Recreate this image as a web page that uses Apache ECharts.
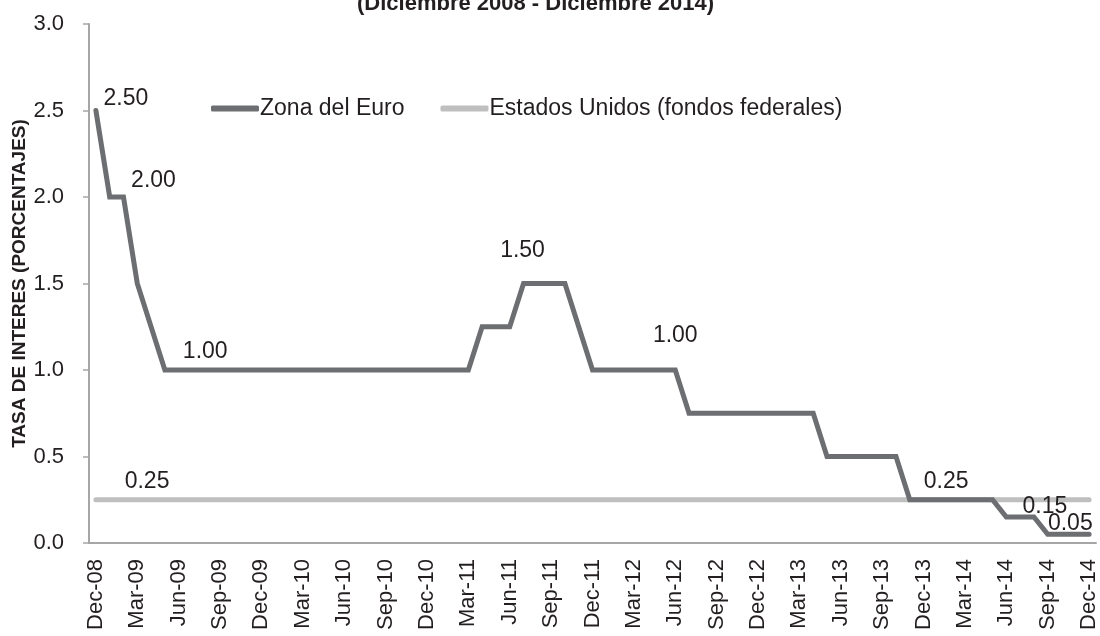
<!DOCTYPE html>
<html>
<head>
<meta charset="utf-8">
<script src="https://cdn.jsdelivr.net/npm/echarts@6/dist/echarts.min.js"></script>
<style>
  html, body { margin: 0; padding: 0; background: #fff; }
  #chart { width: 1100px; height: 636px; }
</style>
</head>
<body>
<div id="chart"></div>
<script>
// meses, dic-2008 a dic-2014
const months = [
  'Dec-08',
  'Jan-09', 'Feb-09', 'Mar-09', 'Apr-09', 'May-09', 'Jun-09', 'Jul-09', 'Aug-09', 'Sep-09', 'Oct-09', 'Nov-09', 'Dec-09',
  'Jan-10', 'Feb-10', 'Mar-10', 'Apr-10', 'May-10', 'Jun-10', 'Jul-10', 'Aug-10', 'Sep-10', 'Oct-10', 'Nov-10', 'Dec-10',
  'Jan-11', 'Feb-11', 'Mar-11', 'Apr-11', 'May-11', 'Jun-11', 'Jul-11', 'Aug-11', 'Sep-11', 'Oct-11', 'Nov-11', 'Dec-11',
  'Jan-12', 'Feb-12', 'Mar-12', 'Apr-12', 'May-12', 'Jun-12', 'Jul-12', 'Aug-12', 'Sep-12', 'Oct-12', 'Nov-12', 'Dec-12',
  'Jan-13', 'Feb-13', 'Mar-13', 'Apr-13', 'May-13', 'Jun-13', 'Jul-13', 'Aug-13', 'Sep-13', 'Oct-13', 'Nov-13', 'Dec-13',
  'Jan-14', 'Feb-14', 'Mar-14', 'Apr-14', 'May-14', 'Jun-14', 'Jul-14', 'Aug-14', 'Sep-14', 'Oct-14', 'Nov-14', 'Dec-14'
]

// Zona del Euro (tasa de refinanciamiento)
const euroRate = [
  2.50,
  2.00, 2.00, 1.50, 1.25, 1.00, 1.00, 1.00, 1.00, 1.00, 1.00, 1.00, 1.00,
  1.00, 1.00, 1.00, 1.00, 1.00, 1.00, 1.00, 1.00, 1.00, 1.00, 1.00, 1.00,
  1.00, 1.00, 1.00, 1.25, 1.25, 1.25, 1.50, 1.50, 1.50, 1.50, 1.25, 1.00,
  1.00, 1.00, 1.00, 1.00, 1.00, 1.00, 0.75, 0.75, 0.75, 0.75, 0.75, 0.75,
  0.75, 0.75, 0.75, 0.75, 0.50, 0.50, 0.50, 0.50, 0.50, 0.50, 0.25, 0.25,
  0.25, 0.25, 0.25, 0.25, 0.25, 0.15, 0.15, 0.15, 0.05, 0.05, 0.05, 0.05
]

// Estados Unidos (fondos federales)
const usRate = new Array(months.length).fill(0.25)

const yTicks = [0, 0.5, 1.0, 1.5, 2.0, 2.5, 3.0]

// etiquetas de datos: indice -> desplazamiento del texto
const euroLabels = { 0: [30, -12], 2: [30, -16], 8: [-1, -18], 31: [-1, -33], 42: [0, -34], 62: [-5, -18], 68: [11, -10], 71: [-5, -11] }
const usLabels = { 4: [-4, -18] }

const FONT = '"Liberation Sans", Arial, sans-serif'
const TEXT = '#231f20'

const buildData = (values, labels) =>
  values.map((v, i) => {
    if (!labels[i]) return v
    return {
      value: v,
      label: {
        show: true,
        position: 'inside',
        offset: labels[i],
        formatter: p => p.value.toFixed(2),
        fontFamily: FONT,
        fontSize: 23,
        color: TEXT
      }
    }
  })

const mChart = echarts.init(document.getElementById('chart'))

const options = {
  animation: false,
  title: {
    text: '(Diciembre 2008 - Diciembre 2014)',
    left: 352,
    top: -12,
    textStyle: { fontFamily: FONT, fontSize: 22, fontWeight: 'bold', color: TEXT }
  },
  legend: {
    left: 206,
    top: 92,
    itemWidth: 48,
    itemHeight: 6,
    itemGap: 36,
    icon: 'roundRect',
    textStyle: { fontFamily: FONT, fontSize: 23, color: TEXT, padding: [0, 0, 0, -4] },
    data: ['Zona del Euro', 'Estados Unidos (fondos federales)']
  },
  grid: { left: 89, right: 4, top: 24, bottom: 93, outerBoundsMode: 'none' },
  xAxis: {
    type: 'category',
    data: months,
    boundaryGap: true,
    axisLine: { lineStyle: { color: '#a6a6a6', width: 2 } },
    axisTick: { interval: 0, length: 5, lineStyle: { color: '#a6a6a6', width: 1.5 } },
    axisLabel: {
      interval: 2,
      rotate: 90,
      margin: 16,
      fontFamily: FONT,
      fontSize: 22,
      color: TEXT
    },
    splitLine: { show: false }
  },
  yAxis: {
    type: 'value',
    min: 0,
    max: 3,
    interval: 0.5,
    name: 'TASA DE INTERES (PORCENTAJES)',
    nameLocation: 'middle',
    nameGap: 60,
    nameMoveOverlap: false,
    nameTextStyle: { fontFamily: FONT, fontSize: 19, fontWeight: 'bold', color: TEXT },
    axisLine: { show: true, lineStyle: { color: '#a6a6a6', width: 2 } },
    axisTick: { show: true, length: 6, lineStyle: { color: '#a6a6a6', width: 1.5 } },
    axisLabel: {
      margin: 25,
      fontFamily: FONT,
      fontSize: 22,
      color: TEXT,
      formatter: v => (yTicks.includes(v) ? v.toFixed(1) : '')
    },
    splitLine: { show: false }
  },
  series: [
    {
      name: 'Estados Unidos (fondos federales)',
      type: 'line',
      z: 2,
      color: '#bfbfbf',
      symbol: 'circle',
      symbolSize: 0,
      showSymbol: true,
      showAllSymbol: true,
      lineStyle: { width: 5, color: '#bfbfbf', cap: 'round' },
      emphasis: { disabled: true },
      data: buildData(usRate, usLabels)
    },
    {
      name: 'Zona del Euro',
      type: 'line',
      z: 3,
      color: '#6d6e71',
      symbol: 'circle',
      symbolSize: 0,
      showSymbol: true,
      showAllSymbol: true,
      lineStyle: { width: 5, color: '#6d6e71', cap: 'round', join: 'miter' },
      emphasis: { disabled: true },
      data: buildData(euroRate, euroLabels)
    }
  ]
}

mChart.setOption(options)
</script>
</body>
</html>
